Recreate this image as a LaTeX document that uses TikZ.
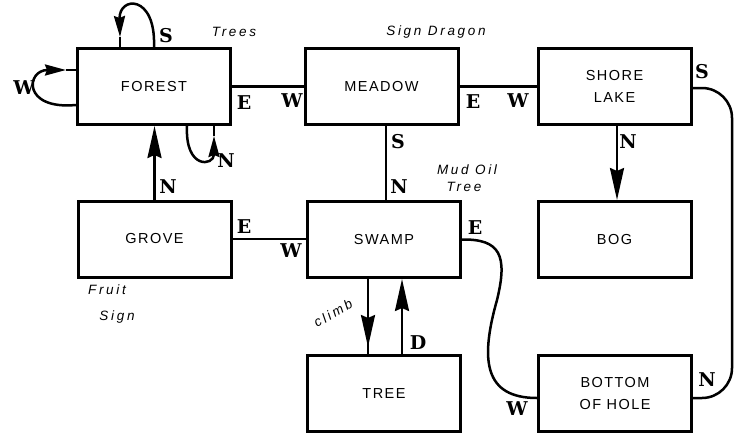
\documentclass[tikz,border=0pt]{standalone}
\usepackage{fontspec}
\setmainfont{Liberation Sans}
\newfontfamily\boxfont[LetterSpace=10]{Liberation Sans}
\newfontfamily\notefont[LetterSpace=20]{Liberation Sans}
\newfontfamily\dirfont{DejaVu Serif}
\usetikzlibrary{arrows.meta}
\begin{document}
\begin{tikzpicture}[x=1pt,y=-1pt,
  room/.style={draw, line width=3pt, minimum width=153pt, minimum height=76pt, inner sep=0pt,
    font=\boxfont\fontsize{14.5}{22}\selectfont, align=center},
  link/.style={line width=2.5pt},
  big/.style={-{Stealth[length=32pt,width=14pt,inset=3pt]}},
  small/.style={-{Stealth[length=21pt,width=11pt,inset=2pt]}},
  dirlab/.style={font=\dirfont\bfseries\fontsize{19}{19}\selectfont, inner sep=0pt},
  note/.style={font=\notefont\itshape\fontsize{13.5}{15}\selectfont, inner sep=0pt, align=center}
]
\useasboundingbox (0,0) rectangle (735,436);
% rooms
\node[room] (forest) at (154,86.5) {FOREST};
\node[room] (meadow) at (381.5,86.5) {MEADOW};
\node[room] (shore)  at (614.5,86.5) {SHORE\\LAKE};
\node[room] (grove)  at (154.5,239) {GROVE};
\node[room] (swamp)  at (384,239.5) {SWAMP};
\node[room] (bog)    at (614.5,239.5) {BOG};
\node[room] (tree)   at (384,393.5) {TREE};
\node[room] (hole)   at (615,393.5) {BOTTOM\\OF HOLE};
% helper coordinates
\coordinate (rt) at (732,0);
\coordinate (se) at ([yshift=-1.5pt]shore.east);
\coordinate (he) at ([yshift=-4.5pt]hole.east);
\coordinate (hw) at ([yshift=-4.5pt]hole.west);
\coordinate (wl) at ([yshift=-18.5pt]forest.west);
\coordinate (wu) at ([yshift=16.5pt]forest.west);
\coordinate (wa) at ([xshift=-10pt]wu);
\coordinate (sl) at ([xshift=-34pt]forest.north);
\coordinate (sa) at ([yshift=10pt]sl);
\coordinate (nl) at ([xshift=33pt]forest.south);
\coordinate (nr) at ([xshift=60pt]forest.south);
\coordinate (na) at ([yshift=-10pt]nr);
\coordinate (ms) at ([xshift=4.5pt]meadow.south);
\coordinate (ss) at ([xshift=2.5pt]shore.south);
\coordinate (cl) at ([xshift=-16pt]swamp.south);
\coordinate (dn) at ([xshift=18pt]tree.north);
% connectors
\draw[link] (forest.east) -- (meadow.west);
\draw[link] (meadow.east) -- (shore.west);
\draw[link] (ms) -- (ms |- swamp.north);
\draw[link,big] (ss) -- (ss |- bog.north);
\draw[link,big] (grove.north) -- (grove.north |- forest.south);
\draw[link] (grove.east) -- (grove.east -| swamp.west);
\draw[link,big,shorten >=7pt] (cl) -- (cl |- tree.north);
\draw[link] (cl) -- (cl |- tree.north);
\draw[link,big] (dn) -- (dn |- swamp.south);
\draw[link] (swamp.east) .. controls (500,239) and (508,255) .. (497,300)
  .. controls (480,360) and (484,398) .. (hw);
\draw[link, rounded corners=30pt] (se) -- (se -| rt) -- (he -| rt) -- (he);
% self loops
\draw[link, small] (forest.north) .. controls (156,-6) and (119,-4) .. (sa);
\draw[link] (sa) -- (sl);
\draw[link, small] (wl) .. controls (22,110) and (26,70) .. (wa);
\draw[link] (wa) -- (wu);
\draw[link, small] (nl) .. controls (185,170) and (214,166) .. (na);
\draw[link] (na) -- (nr);
% direction labels
\node[dirlab] (lfs) at (166,36) {S};
\node[dirlab] (lfw) at (24,88) {W};
\node[dirlab] (lfe) at (244,103) {E};
\node[dirlab] (lfn) at (226,161) {N};
\node[dirlab] (lgn) at (168,187) {N};
\node[dirlab] (lmw) at (292,101) {W};
\node[dirlab] (lme) at (473,102) {E};
\node[dirlab] (lsw) at (518,101) {W};
\node[dirlab] (lms) at (398,142) {S};
\node[dirlab] (lwn) at (399,187) {N};
\node[dirlab] (lsn) at (628,142) {N};
\node[dirlab] (lss) at (702,72) {S};
\node[dirlab] (lge) at (244,227) {E};
\node[dirlab] (lww) at (291,251) {W};
\node[dirlab] (lwe) at (475,228) {E};
\node[dirlab] (lhw) at (517,409) {W};
\node[dirlab] (lhn) at (707,380) {N};
\node[dirlab] (ltd) at (418,343) {D};
% notes
\node[note] (trees) at (234,32) {Trees};
\node[note] (sign) at (436,32) {Sign Dragon};
\node[note] (mud) at (467,170) {Mud Oil};
\node[note] (mtree) at (464,187) {Tree};
\node[note] (fruit) at (107,290) {Fruit};
\node[note] (gsign) at (117,317) {Sign};
\node[note, rotate=30] (climb) at (333,313) {climb};
\end{tikzpicture}
\end{document}
